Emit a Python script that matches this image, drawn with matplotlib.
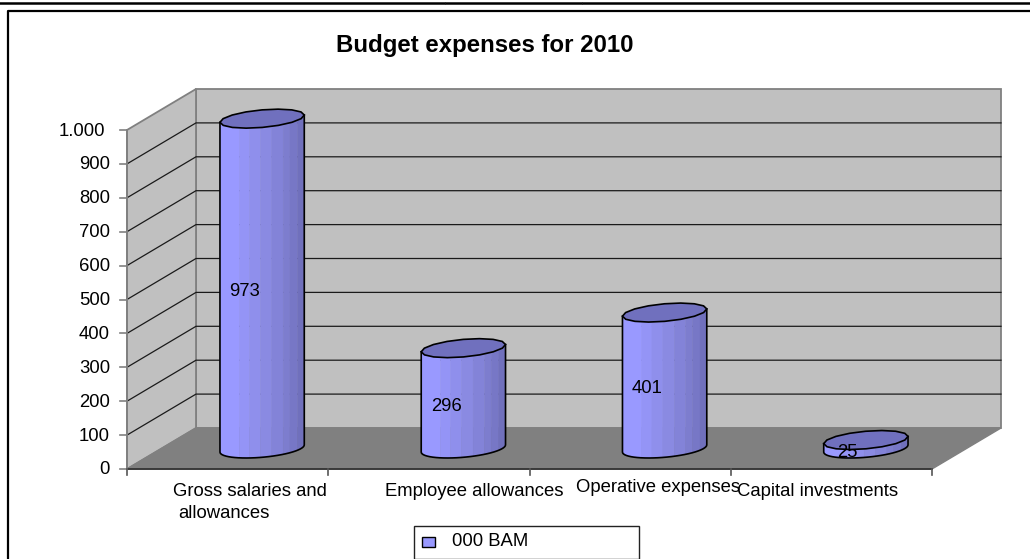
import numpy as np
import matplotlib
matplotlib.use("Agg")
import matplotlib.pyplot as plt
from matplotlib.lines import Line2D
from matplotlib.patches import Polygon, Rectangle

plt.rcParams['font.family'] = ['Liberation Sans', 'DejaVu Sans']

# -------------------- DATA --------------------
title = "Budget expenses for 2010"
values = [973, 296, 401, 25]
value_ticks = [0, 100, 200, 300, 400, 500, 600, 700, 800, 900, 1000]
value_labels = ["0", "100", "200", "300", "400", "500", "600", "700", "800", "900", "1.000"]
series_name = "000 BAM"

# -------------------- LAYOUT (pixels of the 1030x559 picture) --------------------
W, H = 1030, 559
PX_PER_CAT = 201.25
PX_PER_VAL = 0.339
ORIGIN_X, ORIGIN_Y = 127, 469
DEPTH_X, DEPTH_Y = 69, 41      # shift of the back wall
FONT = 13.35

# category label: (text, left px, centre px)
cat_labels = [
    ("Gross salaries and", 173, 492),
    ("allowances", 178, 514),
    ("Employee allowances", 385, 492),
    ("Operative expenses", 576, 487),
    ("Capital investments", 737, 492),
]
label_shift = [-18, -17, -18, -18]

# facet edges of a cylinder as share of its width, with their colours
facet_edges = [0, .23, .35, .48, .615, .75, .83, .92, 1]
facet_colors = ["#9999FF", "#9494F6", "#8F8FEC", "#8A8AE2", "#8383D8", "#7D7DCE", "#7777C6", "#7070BC"]

fig = plt.figure(figsize=(W / 100, H / 100), dpi=100)
ax = fig.add_axes([0, 0, 1, 1])
ax.set_xlim(-ORIGIN_X / PX_PER_CAT, (W - ORIGIN_X) / PX_PER_CAT)
ax.set_ylim((ORIGIN_Y - H) / PX_PER_VAL, ORIGIN_Y / PX_PER_VAL)
ax.axis("off")


# category/value position on a plane `depth` (0 front, 1 back) into the chart
def proj(cat, val, depth=0.0):
    return (cat + depth * DEPTH_X / PX_PER_CAT, val + depth * DEPTH_Y / PX_PER_VAL)


def fx(px):
    return px / W


def fy(py):
    return 1 - py / H


n = len(values)
top = value_ticks[-1]

# walls and floor
ax.add_patch(Polygon([proj(0, 0, 1), proj(n, 0, 1), proj(n, top, 1), proj(0, top, 1)],
                     fc="#C0C0C0", ec="#808080", lw=1.3, zorder=1))
ax.add_patch(Polygon([proj(0, 0), proj(0, 0, 1), proj(0, top, 1), proj(0, top)],
                     fc="#C0C0C0", ec="#808080", lw=1.3, zorder=1))
ax.add_patch(Polygon([proj(0, 0), proj(n, 0), proj(n, 0, 1), proj(0, 0, 1)],
                     fc="#808080", ec="#808080", lw=1, zorder=2))

# gridlines
for v in value_ticks[1:-1]:
    p = [proj(0, v), proj(0, v, 1), proj(n, v, 1)]
    ax.plot([q[0] for q in p], [q[1] for q in p], color="#1a1a1a", lw=0.9, zorder=1.5)

# axes and ticks
ax.plot(*zip(proj(0, 0), proj(0, top)), color="#808080", lw=1.3, zorder=3)
ax.plot(*zip(proj(0, 0), proj(n, 0)), color="#333333", lw=1.3, zorder=3)
tick_x = 7 / PX_PER_CAT
tick_y = 6 / PX_PER_VAL
for v, lab in zip(value_ticks, value_labels):
    ax.plot([-tick_x, 0], [v, v], color="#808080", lw=1.2, zorder=3)
    pad = 15 if v == top else 10   # the 1.000 label sits further out
    ax.text(-tick_x - pad / PX_PER_CAT, v - 1 / PX_PER_VAL, lab, ha="right", va="center",
            fontsize=FONT, color="black")
for c in range(n + 1):
    ax.plot([c, c], [0, -tick_y], color="#555555", lw=1.2, zorder=3)

# cylinders
SHEAR_X, SHEAR_Y = 16.0, 9.5
t0 = np.arctan2(SHEAR_X, 39.0)


def ring(cx, cv, t):
    x = cx + (39.0 * np.cos(t) + SHEAR_X * np.sin(t)) / PX_PER_CAT
    y = cv + (SHEAR_Y * np.sin(t)) / PX_PER_VAL
    return x, y


for i, val in enumerate(values):
    cx, base = proj(i + 0.5, 0, 0.5)
    for j, col in enumerate(facet_colors):
        f = np.linspace(facet_edges[j], facet_edges[j + 1], 6)
        t = t0 + 2 * np.pi - np.arccos(2 * f - 1)
        xb, yb = ring(cx, base, t)
        xt, yt = ring(cx, base + val, t)
        ax.add_patch(Polygon(np.column_stack([np.r_[xb, xt[::-1]], np.r_[yb, yt[::-1]]]),
                             fc=col, ec=col, lw=0.3, zorder=4))
    # outline
    t = t0 + np.linspace(np.pi, 2 * np.pi, 30)
    xb, yb = ring(cx, base, t)
    xt, yt = ring(cx, base + val, t)
    ax.plot(np.r_[xt[0], xb, xt[-1]], np.r_[yt[0], yb, yt[-1]], color="black", lw=1.2, zorder=5)
    t = np.linspace(0, 2 * np.pi, 17)
    xt, yt = ring(cx, base + val, t)
    ax.add_patch(Polygon(np.column_stack([xt, yt]), fc="#7070BE", ec="black", lw=1.2, zorder=6))
    ax.text(cx + label_shift[i] / PX_PER_CAT, base + val / 2 - 8 / PX_PER_VAL, str(val),
            ha="center", va="center", fontsize=FONT, color="black", zorder=7)

# texts outside the plot
fig.text(fx(484.5), fy(45.5), title, ha="center", va="center", fontsize=17.3, fontweight="bold")
for text, left, yc in cat_labels:
    fig.text(fx(left), fy(yc), text, ha="left", va="center", fontsize=FONT)

# legend
fig.add_artist(Rectangle((fx(413.5), fy(558.5)), fx(639) - fx(413.5), fy(525.5) - fy(558.5),
                         transform=fig.transFigure, fc="white", ec="#222222", lw=1))
fig.add_artist(Rectangle((fx(422), fy(547)), fx(435) - fx(422), fy(537) - fy(547),
                         transform=fig.transFigure, fc="#9999FF", ec="black", lw=1))
fig.text(fx(452), fy(542), series_name, ha="left", va="center", fontsize=FONT)

# page frame (open on the right) and the rule above it
frame = [(8, 559), (8, 10.5), (1030, 10.5)]
fig.add_artist(Line2D([fx(p[0]) for p in frame], [fy(p[1]) for p in frame], color="black", lw=1.6))
for a, b in [(0, 444), (445.5, 581), (582.5, 1030)]:
    fig.add_artist(Line2D([fx(a), fx(b)], [fy(3), fy(3)], color="black", lw=1.8))

fig.savefig("out.png", dpi=100)
